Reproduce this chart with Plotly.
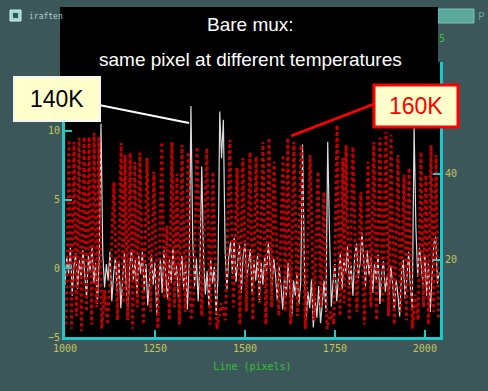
import plotly.graph_objects as go

# ---------------- data ----------------
white_x = list(range(1000, 2045, 5))
white_y = [-1.2, 0.8, -0.4, 1.5, -2.0, 0.2, 1.1, -1.5, 0.6, -0.8,
           1.3, -0.6, -2.2, 0.9, -0.3, 1.6, -1.1, 0.4, -2.6, 0.7,
           10.5, 1.0, -1.4, 0.3, -0.9, 1.2, -2.4, -0.5, 0.8, -1.7,
           0.5, -2.9, -0.7, 1.1, -1.3, -3.1, 0.2, 1.4, -0.9, 0.6,
           -2.0, 0.9, -0.4, 1.2, -1.6, 0.3, -2.7, -0.6, 1.0, -1.2,
           0.4, -3.3, -1.0, 0.7, -1.8, 1.3, -0.5, -2.3, 0.6, -1.1,
           1.5, -0.8, 0.2, -2.1, -0.4, 0.9, -1.6, 0.5, -3.0, 0.3,
           11.8, 2.0, -1.3, 0.7, -2.4, 0.4, 7.4, 0.8, -1.9, -0.2,
           -2.8, 0.6, -1.1, 0.1, -3.4, -0.7, 11.4, 8.0, 10.8, 1.2,
           -1.5, 0.8, 1.9, -0.4, 2.2, -1.0, 0.5, 1.7, -1.8, 0.9,
           1.8, -0.7, 0.3, 1.4, -1.9, 0.6, -0.9, 1.0, -2.3, 0.4,
           -1.2, 0.9, -0.3, 1.9, 0.2, -1.6, 0.7, -0.5, -2.4, 0.1,
           -1.3, -3.0, -0.6, -2.1, 0.4, -1.4, -3.5, -0.9, -2.0, -0.3,
           -2.6, -1.0, 9.0, 0.5, -3.8, -1.7, -2.9, -0.8, -4.3, -2.2,
           -3.6, -1.3, -4.0, -2.5, -0.9, -3.2, 9.2, 2.5, -2.8, -1.0,
           0.3, -2.4, -0.6, 1.1, -1.5, 0.7, -0.4, 1.6, -1.2, 0.2,
           -2.0, 0.9, 1.8, -0.7, 0.4, 2.6, 0.6, -1.3, 1.3, -0.5,
           0.8, -1.8, 0.3, -0.9, 1.0, -2.6, -0.3, 0.5, -1.7, -0.6,
           -2.3, 0.2, -1.0, -3.1, -0.8, -1.9, -3.5, -0.4, 0.6, -2.2,
           -0.7, 1.2, -1.5, -2.9, 10.3, 3.0, -0.6, 1.5, 0.2, -1.4,
           1.0, -2.0, 0.4, -3.2, -0.5, 1.8, 2.3, -1.1, -0.3]

red_x = [1003, 1011, 1018, 1025, 1032, 1039, 1046, 1053, 1060, 1067,
         1074, 1081, 1088, 1094, 1102, 1110, 1118, 1126, 1136, 1146,
         1156, 1162, 1167, 1174, 1181, 1188, 1194, 1201, 1208, 1218,
         1228, 1238, 1247, 1258, 1269, 1276, 1283, 1290, 1297, 1304,
         1311, 1318, 1325, 1334, 1342, 1350, 1358, 1367, 1380, 1394,
         1403, 1411, 1422, 1434, 1446, 1458, 1468, 1478, 1486, 1494,
         1504, 1514, 1522, 1531, 1540, 1550, 1558, 1567, 1574, 1581,
         1594, 1606, 1612, 1619, 1627, 1636, 1646, 1656, 1668, 1681,
         1692, 1703, 1711, 1719, 1728, 1738, 1747, 1756, 1764, 1772,
         1776, 1781, 1790, 1800, 1811, 1822, 1832, 1842, 1850, 1858,
         1866, 1875, 1883, 1892, 1899, 1906, 1915, 1925, 1933, 1942,
         1949, 1956, 1965, 1973, 1981, 1989, 1996, 2003, 2010, 2017,
         2024, 2031, 2038]
red_y = [5, 47.9, 4, 47.4, 7, 48.4, 3.5, 48.6, 8, 48.6,
         5, 49.5, 9, 48.6, 4, 13, 5, 16, 38.1, 6,
         47.2, 10, 44.4, 6, 44.9, 4, 42.8, 9, 44.9, 5,
         43.7, 8, 40.5, 4, 47.4, 11, 28, 6, 47.4, 9,
         40, 5, 46.7, 8, 45.1, 6, 12, 46.3, 7, 46.0,
         5, 40.5, 4, 10, 6, 47.9, 9, 41.4, 5, 43.7,
         8, 45.1, 6, 44.0, 10, 47.4, 5, 48.4, 9, 42.8,
         7, 44.4, 8, 48.4, 5, 47.4, 7, 46.7, 4, 44.4,
         6, 40.5, 9, 35.8, 4, 8, 5, 51.4, 7, 43.7,
         10, 46.7, 6, 46.3, 8, 35.8, 5, 42.8, 9, 47.4,
         6, 48.4, 10, 49.8, 7, 49.1, 5, 44.4, 8, 39.8,
         6, 41.4, 4, 12, 6, 45.1, 9, 39.8, 5, 46.7,
         8, 44.4, 6]

x_ticks = [1000, 1250, 1500, 1750, 2000]
y_left_ticks = [-5, 0, 5, 10]
y_right_ticks = [20, 40]

title_lines = ["Bare mux:", "same pixel at different temperatures"]
label_140 = "140K"
label_160 = "160K"
x_title = "Line (pixels)"

# ---------------- figure ----------------
W, H = 488, 391
L, R, T, B = 65, 48, 62, 54
PW, PH = W - L - R, H - T - B


def px(x):
    return (x - L) / PW


def py(y):
    return (H - B - y) / PH


BG = "#3c5759"
CYAN = "#1ec8c8"
TICKC = "#c4c45a"
MONO = "DejaVu Sans Mono"
SANS = "Liberation Sans, Arial"

fig = go.Figure()
fig.add_trace(go.Scatter(x=red_x, y=red_y, yaxis="y2", mode="lines",
                         line=dict(color="#c00000", width=3, dash="dot"),
                         showlegend=False, hoverinfo="skip"))
fig.add_trace(go.Scatter(x=white_x, y=white_y, mode="lines",
                         line=dict(color="#dadada", width=1.2),
                         showlegend=False, hoverinfo="skip"))

fig.update_layout(
    width=W, height=H,
    margin=dict(l=L, r=R, t=T, b=B),
    paper_bgcolor=BG, plot_bgcolor="black",
    xaxis=dict(range=[1000, 2042], tickvals=x_ticks, ticks="inside", ticklen=7,
               tickcolor=CYAN, tickwidth=2, showline=True, linecolor=CYAN, linewidth=3,
               mirror=False, showgrid=False, zeroline=False,
               tickfont=dict(family=MONO, size=10, color=TICKC),
               title=dict(text=x_title, font=dict(family=MONO, size=10, color="#34c034"),
                          standoff=10)),
    yaxis=dict(range=[-5, 15], tickvals=y_left_ticks, ticks="inside", ticklen=7,
               tickcolor=CYAN, tickwidth=2, showline=True, linecolor=CYAN, linewidth=3,
               showgrid=False, zeroline=False,
               tickfont=dict(family=MONO, size=10, color=TICKC)),
    yaxis2=dict(range=[2.1, 66], tickvals=y_right_ticks, overlaying="y", side="right",
                ticks="inside", ticklen=7, tickcolor=CYAN, tickwidth=2,
                showline=True, linecolor=CYAN, linewidth=3,
                showgrid=False, zeroline=False,
                tickfont=dict(family=MONO, size=10, color=TICKC)),
)

shapes = []
annotations = []

# window title bar decorations
shapes.append(dict(type="rect", xref="paper", yref="paper",
                   x0=px(10), x1=px(21), y0=py(21), y1=py(10),
                   fillcolor="#9fd8d0", line=dict(color="#d0f0ea", width=1), layer="above"))
shapes.append(dict(type="rect", xref="paper", yref="paper",
                   x0=px(13), x1=px(18), y0=py(18), y1=py(13),
                   fillcolor="#2d5a58", line=dict(width=0), layer="above"))
annotations.append(dict(text="iraften", xref="paper", yref="paper", x=px(27), y=py(16),
                        xanchor="left", yanchor="middle", showarrow=False,
                        font=dict(family=MONO, size=8, color="#a8d0cc")))
shapes.append(dict(type="rect", xref="paper", yref="paper",
                   x0=px(438), x1=px(474), y0=py(23), y1=py(9),
                   fillcolor="#5aa79c", line=dict(color="#7cc2b6", width=1), layer="above"))
annotations.append(dict(text="P", xref="paper", yref="paper", x=px(481), y=py(16),
                        xanchor="center", yanchor="middle", showarrow=False,
                        font=dict(family=MONO, size=11, color="#5aa79c")))
annotations.append(dict(text="5", xref="paper", yref="paper", x=px(442), y=py(39),
                        xanchor="center", yanchor="middle", showarrow=False,
                        font=dict(family=MONO, size=10, color="#3cc03c")))

# black title box
shapes.append(dict(type="rect", xref="paper", yref="paper",
                   x0=px(60), x1=px(438), y0=py(76), y1=py(7),
                   fillcolor="black", line=dict(width=0), layer="above"))
annotations.append(dict(text=title_lines[0], xref="paper", yref="paper", x=px(250), y=py(24),
                        xanchor="center", yanchor="middle", showarrow=False,
                        font=dict(family=SANS, size=19, color="white")))
annotations.append(dict(text=title_lines[1], xref="paper", yref="paper", x=px(250), y=py(60),
                        xanchor="center", yanchor="middle", showarrow=False,
                        font=dict(family=SANS, size=19, color="white")))

# 140K callout
shapes.append(dict(type="line", xref="paper", yref="paper",
                   x0=px(99), y0=py(105), x1=px(189), y1=py(123),
                   line=dict(color="white", width=2), layer="above"))
shapes.append(dict(type="rect", xref="paper", yref="paper",
                   x0=px(14), x1=px(100), y0=py(121), y1=py(77),
                   fillcolor="#ffffcc", line=dict(color="#f4f4f4", width=2), layer="above"))
annotations.append(dict(text=label_140, xref="paper", yref="paper", x=px(57), y=py(99),
                        xanchor="center", yanchor="middle", showarrow=False,
                        font=dict(family=SANS, size=23, color="black")))

# 160K callout
shapes.append(dict(type="line", xref="paper", yref="paper",
                   x0=px(291), y0=py(136), x1=px(374), y1=py(104),
                   line=dict(color="#ff0000", width=2.5), layer="above"))
shapes.append(dict(type="rect", xref="paper", yref="paper",
                   x0=px(374), x1=px(458), y0=py(127), y1=py(85),
                   fillcolor="#ffffcc", line=dict(color="#ff0000", width=3), layer="above"))
annotations.append(dict(text=label_160, xref="paper", yref="paper", x=px(416), y=py(106),
                        xanchor="center", yanchor="middle", showarrow=False,
                        font=dict(family=SANS, size=23, color="#ff0000")))

fig.update_layout(shapes=shapes, annotations=annotations)
fig.write_html("out.html")
